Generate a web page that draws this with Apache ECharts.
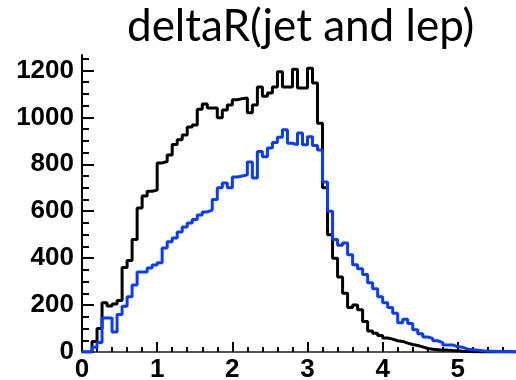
<!DOCTYPE html>
<html>
<head>
<meta charset="utf-8">
<script src="https://cdn.jsdelivr.net/npm/echarts@6/dist/echarts.min.js"></script>
<style>
  html, body { margin: 0; padding: 0; background: #fff; }
  #chart { width: 516px; height: 380px; }
</style>
</head>
<body>
<div id="chart"></div>
<script>
// histogram bins: width 1/15, starting at 0
const binWidth = 1 / 15;

const blackCounts = [
  0, 0, 45, 100, 210, 196, 205, 220, 360, 390,
  480, 614, 665, 685, 690, 806, 812, 840, 885, 905,
  925, 959, 968, 1035, 1057, 1040, 1040, 998, 1032, 1053,
  1075, 1080, 1083, 1020, 1053, 1130, 1090, 1104, 1130, 1195,
  1130, 1130, 1205, 1125, 1125, 1210, 1147, 975, 700, 500,
  400, 320, 250, 190, 200, 180, 130, 90, 80, 70,
  60, 55, 48, 45, 38, 32, 28, 22, 15, 12,
  10, 8, 8, 6, 5, 3, 2, 1, 1, 0,
  0, 0, 0, 0, 0, 0, 0, 0, 0, 0
];

const blueCounts = [
  0, 0, 20, 40, 145, 145, 85, 160, 195, 235,
  286, 341, 341, 358, 371, 380, 443, 470, 486, 512,
  533, 550, 565, 584, 597, 605, 650, 700, 720, 700,
  746, 750, 755, 810, 742, 855, 832, 870, 893, 915,
  947, 890, 883, 934, 883, 917, 880, 861, 725, 600,
  480, 455, 465, 415, 372, 355, 330, 295, 270, 235,
  210, 190, 165, 125, 140, 122, 95, 78, 64, 58,
  48, 40, 30, 30, 22, 20, 12, 10, 8, 5,
  3, 3, 2, 2, 2, 1, 1, 1, 0, 0
];

const yMajorTicks = [0, 200, 400, 600, 800, 1000, 1200];
const yMinorTicks = [50, 100, 150, 250, 300, 350, 450, 500, 550, 650, 700, 750,
                     850, 900, 950, 1050, 1100, 1150, 1250];
const yMax = 1266;

function toSteps(counts) {
  const pts = counts.map((v, i) => [i * binWidth, v]);
  pts.push([counts.length * binWidth, counts[counts.length - 1]]);
  return pts;
}

const chart = echarts.init(document.getElementById('chart'));
chart.setOption({
  animation: false,
  title: {
    text: 'deltaR(jet and lep)',
    left: 122,
    top: 0,
    textStyle: {
      fontFamily: 'Lato',
      fontWeight: 'normal',
      fontSize: 44,
      color: '#000'
    }
  },
  grid: { left: 82, right: -17, top: 55, bottom: 28, outerBoundsMode: 'none', containLabel: false },
  xAxis: [{
    type: 'value',
    position: 'bottom',
    min: 0,
    max: 6,
    interval: 1,
    axisLine: { lineStyle: { color: '#000', width: 2 } },
    axisTick: { inside: true, length: 10, lineStyle: { color: '#000', width: 2 } },
    minorTick: { show: true, splitNumber: 5, length: 5, lineStyle: { color: '#000', width: 2 } },
    splitLine: { show: false },
    axisLabel: {
      margin: 5,
      fontFamily: 'Liberation Sans',
      fontWeight: 'bold',
      fontSize: 26,
      color: '#000'
    }
  }, {
    type: 'value',
    position: 'top',
    min: 0,
    max: 6,
    axisLine: { lineStyle: { color: '#555', width: 2 } },
    axisTick: { show: false },
    axisLabel: { show: false },
    splitLine: { show: false }
  }],
  yAxis: [{
    type: 'value',
    min: 0,
    max: yMax,
    axisLine: { show: true, lineStyle: { color: '#000', width: 2 } },
    axisTick: {
      inside: true, length: 12, customValues: yMajorTicks,
      lineStyle: { color: '#000', width: 2 }
    },
    splitLine: { show: false },
    axisLabel: {
      customValues: yMajorTicks,
      formatter: v => String(v),
      margin: 8,
      fontFamily: 'Liberation Sans',
      fontWeight: 'bold',
      fontSize: 26,
      color: '#000'
    }
  }, {
    type: 'value',
    position: 'left',
    min: 0,
    max: yMax,
    axisLine: { show: false },
    axisTick: {
      inside: true, length: 7, customValues: yMinorTicks,
      lineStyle: { color: '#000', width: 2 }
    },
    axisLabel: { show: false },
    splitLine: { show: false }
  }],
  series: [{
    name: 'black',
    type: 'line',
    step: 'end',
    symbol: 'none',
    data: toSteps(blackCounts),
    lineStyle: { color: '#000', width: 3 }
  }, {
    name: 'blue',
    type: 'line',
    step: 'end',
    symbol: 'none',
    data: toSteps(blueCounts),
    lineStyle: { color: '#0a3cff', width: 3 }
  }]
});
</script>
</body>
</html>
